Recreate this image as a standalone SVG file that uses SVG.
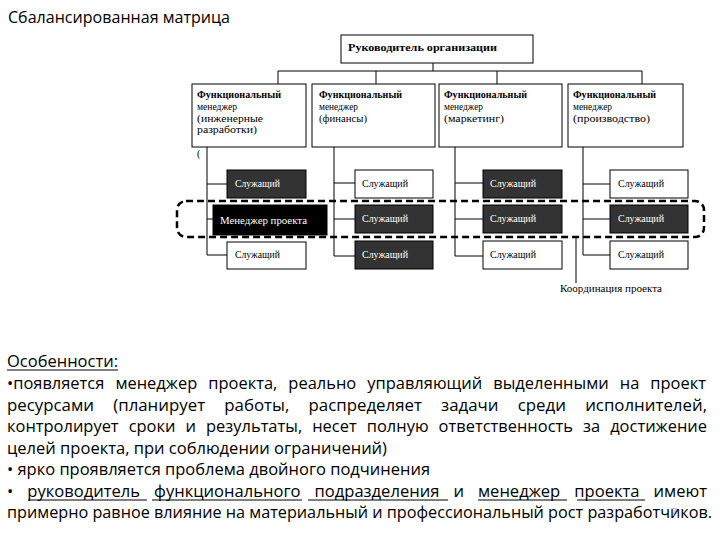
<svg xmlns="http://www.w3.org/2000/svg" width="720" height="540" viewBox="0 0 720 540">
<style>
.bx{fill:#fff;stroke:#000;stroke-width:1}
.dk{fill:#333;stroke:#000;stroke-width:1}
.bk{fill:#000;stroke:#000;stroke-width:1}
.ln{stroke:#000;stroke-width:1;fill:none}
.sf{font-family:"Liberation Serif","Times New Roman",serif;font-size:10px;fill:#000}
.sfw{font-family:"Liberation Serif","Times New Roman",serif;font-size:10px;fill:#fff}
.bd{font-weight:bold}
.tx{font-family:"Liberation Sans Narrow","Open Sans","Noto Sans",sans-serif;font-size:17px;fill:#000}
.ul{stroke:#000;stroke-width:1.2}
</style>
<rect width="720" height="540" fill="#fff"/>
<text class="tx" x="8" y="23" font-size="17" textLength="222" lengthAdjust="spacingAndGlyphs">Сбалансированная матрица</text>

<g id="connectors">
<path class="ln" d="M433 63V71M278 71H642M278 71V84M376 71V84M497 71V84M642 71V84"/>
<path class="ln" d="M207 147V255M207 184H227M207 219H213M207 255H227"/>
<path class="ln" d="M334 147V256M334 183H355M334 219H355M334 256H355"/>
<path class="ln" d="M455 147V256M455 183H483M455 219H483M455 256H483"/>
<path class="ln" d="M583 147V255M583 184H610M583 219H610M583 255H610"/>
<path class="ln" d="M576 237V283"/>
</g>

<g id="head">
<rect class="bx" x="341" y="35" width="192" height="28"/>
<text class="sf bd" x="348" y="51" textLength="149" lengthAdjust="spacingAndGlyphs">Руководитель организации</text>
</g>

<g id="fm1">
<rect class="bx" x="192" y="84" width="114" height="63"/>
<text class="sf"><tspan class="bd" x="197" y="98" textLength="84" lengthAdjust="spacingAndGlyphs">Функциональный</tspan><tspan x="197" y="110" textLength="40" lengthAdjust="spacingAndGlyphs">менеджер</tspan><tspan x="197" y="122" textLength="66" lengthAdjust="spacingAndGlyphs">(инженерные</tspan><tspan x="197" y="133" textLength="60" lengthAdjust="spacingAndGlyphs">разработки)</tspan></text>
</g>
<g id="fm2">
<rect class="bx" x="312" y="84" width="123" height="63"/>
<text class="sf"><tspan class="bd" x="319" y="98" textLength="83" lengthAdjust="spacingAndGlyphs">Функциональный</tspan><tspan x="319" y="110" textLength="39" lengthAdjust="spacingAndGlyphs">менеджер</tspan><tspan x="319" y="122" textLength="48" lengthAdjust="spacingAndGlyphs">(финансы)</tspan></text>
</g>
<g id="fm3">
<rect class="bx" x="439" y="84" width="123" height="63"/>
<text class="sf"><tspan class="bd" x="444" y="98" textLength="83" lengthAdjust="spacingAndGlyphs">Функциональный</tspan><tspan x="444" y="110" textLength="39" lengthAdjust="spacingAndGlyphs">менеджер</tspan><tspan x="444" y="122" textLength="60" lengthAdjust="spacingAndGlyphs">(маркетинг)</tspan></text>
</g>
<g id="fm4">
<rect class="bx" x="568" y="84" width="115" height="63"/>
<text class="sf"><tspan class="bd" x="573" y="98" textLength="83" lengthAdjust="spacingAndGlyphs">Функциональный</tspan><tspan x="573" y="110" textLength="39" lengthAdjust="spacingAndGlyphs">менеджер</tspan><tspan x="573" y="122" textLength="77" lengthAdjust="spacingAndGlyphs">(производство)</tspan></text>
</g>
<text class="sf" x="197" y="157" font-size="9">(</text>

<g id="r1c1"><rect class="dk" x="227" y="170" width="79" height="28"/><text class="sfw" x="235" y="187" textLength="45" lengthAdjust="spacingAndGlyphs">Служащий</text></g>
<g id="r1c2"><rect class="bx" x="355" y="170" width="78" height="28"/><text class="sf" x="362" y="187" textLength="46" lengthAdjust="spacingAndGlyphs">Служащий</text></g>
<g id="r1c3"><rect class="dk" x="483" y="170" width="79" height="28"/><text class="sfw" x="490" y="187" textLength="46" lengthAdjust="spacingAndGlyphs">Служащий</text></g>
<g id="r1c4"><rect class="bx" x="610" y="170" width="78" height="28"/><text class="sf" x="618" y="187" textLength="46" lengthAdjust="spacingAndGlyphs">Служащий</text></g>

<g id="r2c1"><rect class="bk" x="213" y="205" width="114" height="30"/><text class="sfw" x="220" y="224" font-size="11" textLength="87" lengthAdjust="spacingAndGlyphs">Менеджер проекта</text></g>
<g id="r2c2"><rect class="dk" x="355" y="205" width="78" height="28"/><text class="sfw" x="362" y="222" textLength="46" lengthAdjust="spacingAndGlyphs">Служащий</text></g>
<g id="r2c3"><rect class="dk" x="483" y="205" width="79" height="28"/><text class="sfw" x="490" y="222" textLength="46" lengthAdjust="spacingAndGlyphs">Служащий</text></g>
<g id="r2c4"><rect class="dk" x="610" y="205" width="78" height="28"/><text class="sfw" x="618" y="222" textLength="46" lengthAdjust="spacingAndGlyphs">Служащий</text></g>

<g id="r3c1"><rect class="bx" x="227" y="242" width="79" height="27"/><text class="sf" x="235" y="258" textLength="45" lengthAdjust="spacingAndGlyphs">Служащий</text></g>
<g id="r3c2"><rect class="dk" x="355" y="241" width="78" height="28"/><text class="sfw" x="362" y="258" textLength="46" lengthAdjust="spacingAndGlyphs">Служащий</text></g>
<g id="r3c3"><rect class="bx" x="483" y="241" width="79" height="28"/><text class="sf" x="490" y="258" textLength="46" lengthAdjust="spacingAndGlyphs">Служащий</text></g>
<g id="r3c4"><rect class="bx" x="610" y="241" width="78" height="28"/><text class="sf" x="618" y="258" textLength="46" lengthAdjust="spacingAndGlyphs">Служащий</text></g>

<g id="project">
<rect x="177" y="201" width="527" height="36" rx="9" fill="none" stroke="#000" stroke-width="2.5" stroke-dasharray="7 4"/>
</g>
<g id="coord"><text class="sf" x="560" y="292" textLength="102" lengthAdjust="spacingAndGlyphs">Координация проекта</text></g>

<g id="notes">
<text class="tx" x="7" y="367" textLength="111" lengthAdjust="spacingAndGlyphs">Особенности:</text>
<text class="tx" x="7" y="389" word-spacing="7" textLength="699" lengthAdjust="spacingAndGlyphs">•появляется менеджер проекта, реально управляющий выделенными на проект</text>
<text class="tx" x="7" y="410.5" word-spacing="15" textLength="700" lengthAdjust="spacingAndGlyphs">ресурсами (планирует работы, распределяет задачи среди исполнителей,</text>
<text class="tx" x="7" y="432" word-spacing="6" textLength="700" lengthAdjust="spacingAndGlyphs">контролирует сроки и результаты, несет полную ответственность за достижение</text>
<text class="tx" x="7" y="453.5" textLength="380" lengthAdjust="spacingAndGlyphs">целей проекта, при соблюдении ограничений)</text>
<text class="tx" x="7" y="475" textLength="423" lengthAdjust="spacingAndGlyphs">• ярко проявляется проблема двойного подчинения</text>
<text class="tx" x="7" y="496.5" word-spacing="10" textLength="700" lengthAdjust="spacingAndGlyphs">• руководитель функционального подразделения и менеджер проекта имеют</text>
<text class="tx" x="7" y="518" textLength="705" lengthAdjust="spacingAndGlyphs">примерно равное влияние на материальный и профессиональный рост разработчиков.</text>
<path class="ul" d="M7 370H118M28 500H147M152 500H302M308 500H448M478 500H567M577 500H645"/>
<text x="671" y="516" font-family="Liberation Sans, sans-serif" font-size="11" fill="#b8b8b8">7</text>
</g>
</svg>
